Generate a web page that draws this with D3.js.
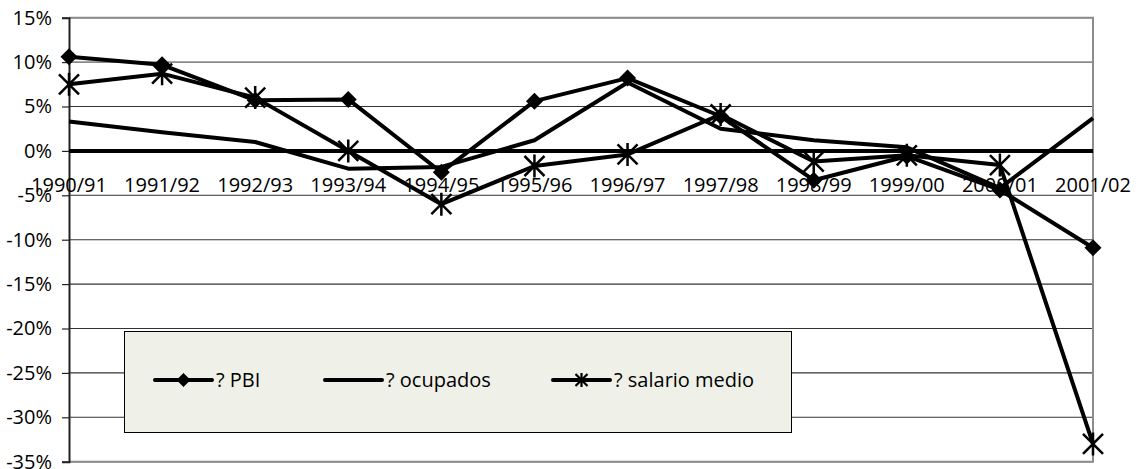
<!DOCTYPE html>
<html>
<head>
<meta charset="utf-8">
<script src="https://d3js.org/d3.v7.min.js"></script>
<style>
    body { margin: 0; background: #fff; }
    text { font-family: 'Open Sans', sans-serif; font-size: 20px; fill: #000; }
</style>
</head>
<body>
<div id="chart"></div>
<script>
    // data (% change)
    var categories = ['1990/91','1991/92','1992/93','1993/94','1994/95','1995/96',
                      '1996/97','1997/98','1998/99','1999/00','2000/01','2001/02'];
    var pbi      = [10.6, 9.7, 5.7, 5.8, -2.4, 5.6, 8.2, 3.9, -3.3, -0.6, -4.4, -10.9];
    var ocupados = [3.3, 2.1, 1.0, -2.0, -1.8, 1.2, 7.7, 2.5, 1.2, 0.4, -4.2, 3.7];
    var salario  = [7.5, 8.7, 6.0, 0.0, -6.0, -1.7, -0.4, 4.1, -1.2, -0.5, -1.6, -33.0];
    var yTicks   = [15, 10, 5, 0, -5, -10, -15, -20, -25, -30, -35];
    var seriesNames = ['? PBI', '? ocupados', '? salario medio'];

    var chart_width = 1136;
    var chart_height = 469;
    var plotLeft = 69, plotRight = 1093, plotTop = 17.7, plotBottom = 461.7;

    var svg = d3.select('#chart')
        .append('svg')
        .attr('width', chart_width)
        .attr('height', chart_height);

    // scales
    var x_scale = d3.scalePoint()
        .domain(categories)
        .range([plotLeft, plotRight]);

    var y_scale = d3.scaleLinear()
        .domain([-35, 15])
        .range([plotBottom, plotTop]);

    // gridlines
    svg.selectAll('line.grid')
        .data(yTicks)
        .enter()
        .append('line')
        .attr('class', 'grid')
        .attr('x1', plotLeft)
        .attr('x2', plotRight)
        .attr('y1', (d) => y_scale(d))
        .attr('y2', (d) => y_scale(d))
        .attr('stroke', (d) => (d >= 10 ? '#8a8a8a' : '#333'))
        .attr('stroke-width', (d) => (d >= 10 ? 1.6 : 1.1));

    // border right / bottom
    svg.append('path')
        .attr('d', 'M' + plotLeft + ',' + y_scale(15) + 'H' + plotRight + 'V' + y_scale(-35) + 'H' + plotLeft)
        .attr('fill', 'none')
        .attr('stroke', '#8c8c8c')
        .attr('stroke-width', 2);

    // y axis
    var y_axis = d3.axisLeft(y_scale)
        .tickValues(yTicks)
        .tickSize(7)
        .tickPadding(10)
        .tickFormat((d) => d + '%');

    var gy = svg.append('g')
        .attr('transform', 'translate(' + plotLeft + ',0)')
        .call(y_axis);
    gy.select('.domain').attr('stroke', '#222').attr('stroke-width', 2);
    gy.selectAll('.tick line').attr('stroke', '#222').attr('stroke-width', 1.2);
    gy.selectAll('text')
        .style('font-family', "'Open Sans', sans-serif")
        .style('font-size', '20px')
        .attr('fill', '#000');

    // thick zero line
    svg.append('line')
        .attr('x1', plotLeft)
        .attr('x2', plotRight)
        .attr('y1', y_scale(0))
        .attr('y2', y_scale(0))
        .attr('stroke', '#000')
        .attr('stroke-width', 4);

    // category labels just below zero line
    svg.selectAll('text.cat')
        .data(categories)
        .enter()
        .append('text')
        .attr('class', 'cat')
        .attr('x', (d) => x_scale(d))
        .attr('y', y_scale(0) + 41)
        .attr('text-anchor', 'middle')
        .text((d) => d);

    // lines
    var line = d3.line()
        .x((d, i) => x_scale(categories[i]))
        .y((d) => y_scale(d));

    [ocupados, salario, pbi].forEach((s) => {
        svg.append('path')
            .datum(s)
            .attr('d', line)
            .attr('fill', 'none')
            .attr('stroke', '#000')
            .attr('stroke-width', 4)
            .attr('stroke-linejoin', 'round');
    });

    // markers
    function diamond(g, r) {
        g.append('path')
            .attr('d', 'M0,' + (-r) + 'L' + r + ',0L0,' + r + 'L' + (-r) + ',0Z')
            .attr('fill', '#000');
    }
    function star(g, r, w) {
        g.append('path')
            .attr('d', 'M' + (-r) + ',' + (-r) + 'L' + r + ',' + r +
                       'M' + (-r) + ',' + r + 'L' + r + ',' + (-r) +
                       'M0,' + (-r * 1.15) + 'V' + (r * 1.15))
            .attr('stroke', '#000')
            .attr('stroke-width', w)
            .attr('fill', 'none');
    }

    svg.selectAll('g.pbi')
        .data(pbi)
        .enter()
        .append('g')
        .attr('class', 'pbi')
        .attr('transform', (d, i) => 'translate(' + x_scale(categories[i]) + ',' + y_scale(d) + ')')
        .each(function () { diamond(d3.select(this), 8.5); });

    svg.selectAll('g.sal')
        .data(salario)
        .enter()
        .append('g')
        .attr('class', 'sal')
        .attr('transform', (d, i) => 'translate(' + x_scale(categories[i]) + ',' + y_scale(d) + ')')
        .each(function () { star(d3.select(this), 10, 2.5); });

    // legend
    var legend = svg.append('g');
    legend.append('rect')
        .attr('x', 124.5)
        .attr('y', 331.5)
        .attr('width', 667)
        .attr('height', 101)
        .attr('fill', '#eff1e9')
        .attr('stroke', '#000')
        .attr('stroke-width', 1);

    var legendX = [155, 325, 553];
    var ly = 380;
    seriesNames.forEach((name, i) => {
        var g = legend.append('g').attr('transform', 'translate(' + legendX[i] + ',' + ly + ')');
        g.append('line')
            .attr('x1', 0).attr('x2', 57)
            .attr('y1', 0).attr('y2', 0)
            .attr('stroke', '#000')
            .attr('stroke-width', 4)
            .attr('stroke-linecap', 'round');
        var m = g.append('g').attr('transform', 'translate(28.5,0)');
        if (i == 0) diamond(m, 7);
        if (i == 2) star(m, 6, 2.2);
        g.append('text')
            .attr('x', 61)
            .attr('y', 7)
            .text(name);
    });
</script>
</body>
</html>
